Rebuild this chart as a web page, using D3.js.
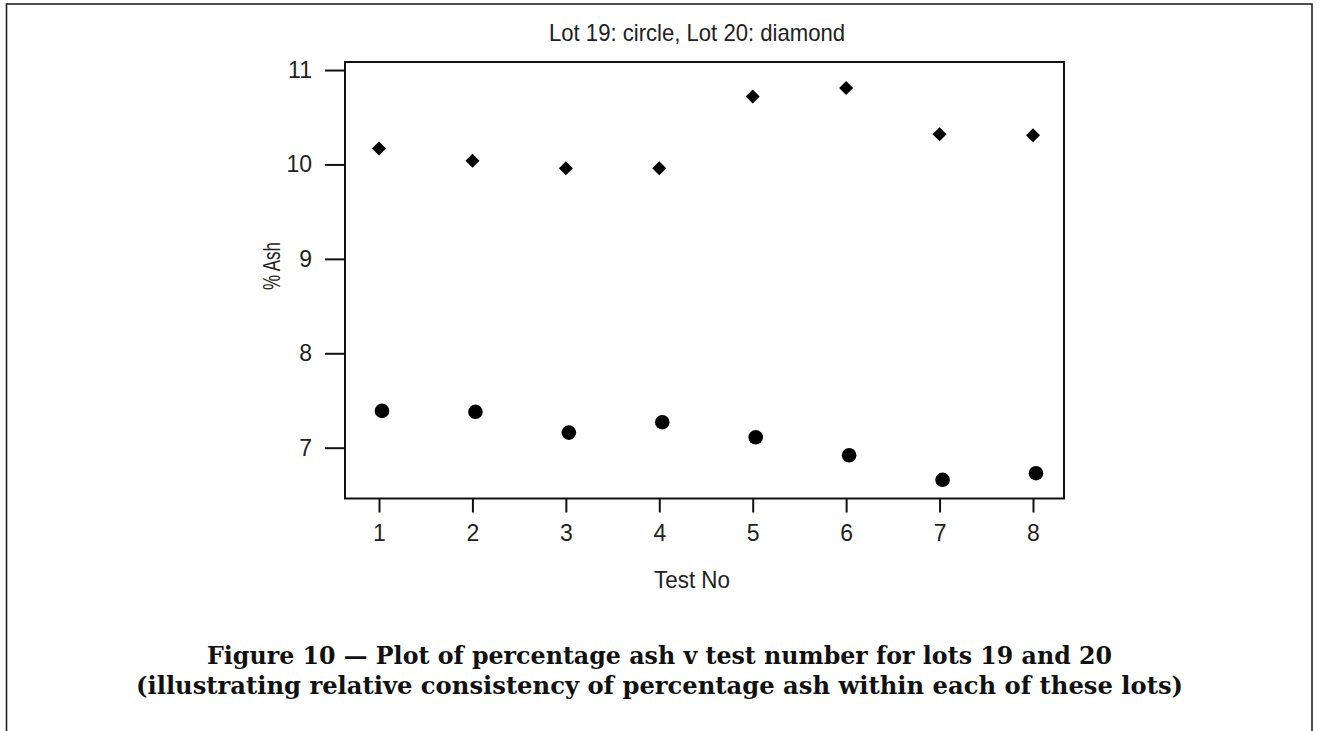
<!DOCTYPE html>
<html>
<head>
<meta charset="utf-8">
<script src="https://cdn.jsdelivr.net/npm/d3@7"></script>
<style>
  html, body { margin: 0; padding: 0; background: #fff; }
  svg { display: block; }
  .sans { font-family: "Liberation Sans Narrow", "Arial Narrow", "Liberation Sans", Arial, sans-serif; fill: #222; }
  .cap { font-family: "DejaVu Serif", "Liberation Serif", serif; font-weight: bold; fill: #111; }
</style>
</head>
<body>
<svg id="chart" width="1321" height="731"></svg>
<script>
// Test numbers and percentage ash per lot
const testNo = [1, 2, 3, 4, 5, 6, 7, 8];
const lot19Ash = [7.39, 7.38, 7.16, 7.27, 7.11, 6.92, 6.66, 6.73];   // circles
const lot20Ash = [10.17, 10.04, 9.96, 9.96, 10.72, 10.81, 10.32, 10.31]; // diamonds
const yTicks = [7, 8, 9, 10, 11];
const xTicks = [1, 2, 3, 4, 5, 6, 7, 8];

const titleText = "Lot 19: circle, Lot 20: diamond";
const xLabel = "Test No";
const yLabel = "% Ash";
const captionLines = [
  "Figure 10 \u2014 Plot of percentage ash v test number for lots 19 and 20",
  "(illustrating relative consistency of percentage ash within each of these lots)"
];

const svg = d3.select("#chart");

// outer figure frame
svg.append("rect")
  .attr("x", 6.5).attr("y", 4)
  .attr("width", 1305.5).attr("height", 800)
  .attr("fill", "none").attr("stroke", "#222").attr("stroke-width", 1.6);

const box = { left: 345, right: 1064, top: 62, bottom: 498.5 };

const x = d3.scaleLinear().domain([0.636, 8.332]).range([box.left, box.right]);
const y = d3.scaleLinear().domain([6.462, 11.085]).range([box.bottom, box.top]);

// y axis ticks and labels
const yAxis = svg.append("g")
  .attr("transform", `translate(${box.left},0)`)
  .call(d3.axisLeft(y).tickValues(yTicks).tickFormat(d3.format("d")).tickSize(20).tickPadding(13));
yAxis.select(".domain").remove();
yAxis.selectAll(".tick line").attr("stroke", "#111").attr("stroke-width", 2);
yAxis.selectAll(".tick text").attr("class", "sans").style("font-size", "23px").attr("fill", "#222");

// x axis ticks and labels
const xAxis = svg.append("g")
  .attr("transform", `translate(0,${box.bottom})`)
  .call(d3.axisBottom(x).tickValues(xTicks).tickFormat(d3.format("d")).tickSize(14).tickPadding(12));
xAxis.select(".domain").remove();
xAxis.selectAll(".tick line").attr("stroke", "#111").attr("stroke-width", 2);
xAxis.selectAll(".tick text").attr("class", "sans").style("font-size", "23px").attr("fill", "#222");

// plot frame
svg.append("rect")
  .attr("x", box.left).attr("y", box.top)
  .attr("width", box.right - box.left).attr("height", box.bottom - box.top)
  .attr("fill", "none").attr("stroke", "#111").attr("stroke-width", 2);

// Lot 19 points (circles)
svg.append("g").selectAll("circle")
  .data(testNo.map((t, i) => ({ t, v: lot19Ash[i] })))
  .join("circle")
  .attr("cx", d => x(d.t) + 3)
  .attr("cy", d => y(d.v))
  .attr("r", 7.3)
  .attr("fill", "#000");

// Lot 20 points (diamonds)
const diamond = d3.symbol().type(d3.symbolSquare).size(98);
svg.append("g").selectAll("path")
  .data(testNo.map((t, i) => ({ t, v: lot20Ash[i] })))
  .join("path")
  .attr("d", diamond)
  .attr("transform", d => `translate(${x(d.t)},${y(d.v)}) rotate(45)`)
  .attr("fill", "#000");

// fits a text element to a given width
function fit(sel, w) {
  sel.attr("textLength", w).attr("lengthAdjust", "spacingAndGlyphs");
  return sel;
}

// title
fit(svg.append("text").attr("class", "sans")
  .attr("x", 697).attr("y", 41).attr("text-anchor", "middle")
  .style("font-size", "24px").text(titleText), 296);

// axis titles
fit(svg.append("text").attr("class", "sans")
  .attr("x", 692).attr("y", 588).attr("text-anchor", "middle")
  .style("font-size", "24px").text(xLabel), 76);

fit(svg.append("text").attr("class", "sans")
  .attr("transform", "translate(280,266) rotate(-90)")
  .attr("text-anchor", "middle")
  .style("font-size", "24px").text(yLabel), 48);

// caption
const capW = [905, 1047];
const capY = [664, 694];
captionLines.forEach((line, i) => {
  fit(svg.append("text").attr("class", "cap")
    .attr("x", 659.5).attr("y", capY[i]).attr("text-anchor", "middle")
    .style("font-size", "24.5px").text(line), capW[i]);
});
</script>
</body>
</html>
